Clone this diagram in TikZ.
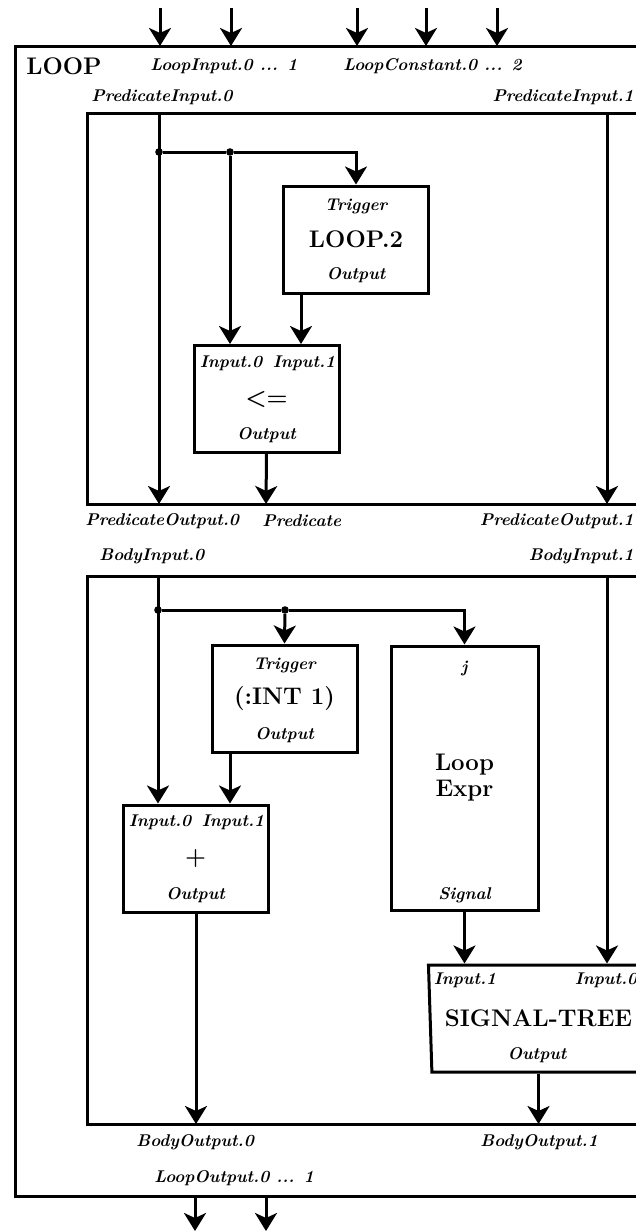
\documentclass[tikz,border=0pt]{standalone}
\usepackage{fontspec}
\usepackage{tikz}
\usetikzlibrary{arrows.meta,positioning,shapes.geometric}
\tikzset{
  gate/.style={draw=black, line width=1.5pt, minimum width=72.5pt, minimum height=53.5pt, inner sep=0pt, align=center, font=\fontsize{12}{13}\selectfont\bfseries},
  region/.style={draw=black, line width=1.5pt},
  port/.style={font=\fontsize{8.5}{9}\selectfont\bfseries\itshape, inner sep=0pt},
  title/.style={font=\fontsize{12}{13}\selectfont\bfseries, inner sep=0pt},
  wire/.style={line width=1.5pt},
  arrow/.style={-{Stealth[length=9pt,width=11pt,inset=2.5pt]}, line width=1.5pt},
  dot/.style={circle, fill=black, minimum size=3.8pt, inner sep=0pt}
}
\begin{document}
\begin{tikzpicture}[x=0.5pt, y=-0.5pt]
\useasboundingbox (0,0) rectangle (636,1232);
\clip (0,0) rectangle (636,1232);
% ---- LOOP frame ----
\draw[region] (15,46) rectangle (700,1196);
\node[title, anchor=west] (looptitle) at (26,66) {LOOP};
\node[port, anchor=west] (loopin) at (150,66) {LoopInput.0 ... 1};
\node[port, anchor=west] (loopconst) at (343,66) {LoopConstant.0 ... 2};
\foreach \x [count=\i] in {160,231,357,426,497} {
  \coordinate (lin\i) at (\x,8);
  \coordinate (linend\i) at (\x,46);
  \draw[arrow] (lin\i) -- (linend\i);
}
\node[port, anchor=west] (loopout) at (154,1178) {LoopOutput.0 ... 1};
\foreach \x [count=\i] in {195,266} {
  \coordinate (lout\i) at (\x,1196);
  \coordinate (loutend\i) at (\x,1231);
  \draw[arrow] (lout\i) -- (loutend\i);
}
% ---- predicate ----
\draw[region] (87,113) rectangle (700,504);
\node[port, anchor=west] (predin0) at (91,97) {PredicateInput.0};
\node[port, anchor=east] (predin1) at (634,97) {PredicateInput.1};
\node[port, anchor=west] (predout0) at (85,521) {PredicateOutput.0};
\node[port, anchor=west] (predflag) at (262,521) {Predicate};
\node[port, anchor=east] (predout1) at (634,521) {PredicateOutput.1};
\coordinate (pi0) at (159,113);
\coordinate (po0) at (159,504);
\coordinate (pi1) at (607,113);
\coordinate (po1) at (607,504);
\coordinate (pflag) at (266,504);
\node[gate] (loopii) at (356,239.5) {LOOP.2};
\node[port] (loopiitrig) at (356,206) {Trigger};
\node[port] (loopiiout) at (356,275) {Output};
\node[gate] (le) at (266.5,399) {<=};
\node[port] (lein0) at (231,363) {Input.0};
\node[port] (lein1) at (304,363) {Input.1};
\node[port] (leout) at (266.5,435) {Output};
\node[dot] (pj1) at (159,152) {};
\node[dot] (pj2) at (230,152) {};
\draw[arrow] (pi0) -- (po0);
\draw[wire] (pj1) -- (pj2);
\draw[arrow] (pj2) -| (loopii.north);
\draw[arrow] (pj2) -- (pj2 |- le.north);
\draw[arrow] (loopii.south -| 301,0) -- (le.north -| 301,0);
\draw[arrow] (le.south) -- (pflag);
\draw[arrow] (pi1) -- (po1);
% ---- body ----
\draw[region] (87,576) rectangle (700,1124);
\node[port, anchor=west] (bodyin0) at (99,556) {BodyInput.0};
\node[port, anchor=east] (bodyin1) at (634,556) {BodyInput.1};
\node[port, anchor=west] (bodyout0) at (136,1142) {BodyOutput.0};
\node[port, anchor=west] (bodyout1) at (480,1142) {BodyOutput.1};
\coordinate (bi0) at (158,576);
\coordinate (bi1) at (607,576);
\coordinate (bo0) at (196,1124);
\coordinate (bo1) at (538,1124);
\node[gate] (int) at (284.5,698.5) {(:INT 1)};
\node[port] (inttrig) at (284.5,665) {Trigger};
\node[port] (intout) at (284.5,735) {Output};
\node[gate] (plus) at (195.5,858.5) {+};
\node[port] (plusin0) at (160,822) {Input.0};
\node[port] (plusin1) at (233,822) {Input.1};
\node[port] (plusout) at (195.5,895) {Output};
\node[gate, minimum width=73.5pt, minimum height=132pt] (expr) at (464.5,778) {Loop\\Expr};
\node[port] (exprj) at (464.5,668) {j};
\node[port] (exprsig) at (464.5,895) {Signal};
\node[draw=black, line width=1.5pt, trapezium, trapezium angle=80, shape border rotate=180, trapezium stretches=true, minimum width=110.5pt, minimum height=53.5pt, inner sep=0pt, font=\fontsize{12}{13}\selectfont\bfseries] (sig) at (538.5,1018.5) {SIGNAL-TREE};
\node[port] (sigin1) at (465,980) {Input.1};
\node[port] (sigin0) at (606,980) {Input.0};
\node[port] (sigout) at (537,1055) {Output};
\node[dot] (bj1) at (158,610) {};
\node[dot] (bj2) at (285,610) {};
\draw[arrow] (bi0) -- (bi0 |- plus.north);
\draw[wire] (bj1) -- (bj2);
\draw[arrow] (bj2) -| (expr.north);
\draw[arrow] (bj2) -- (int.north);
\draw[arrow] (int.south -| 230,0) -- (plus.north -| 230,0);
\draw[arrow] (plus.south -| bo0) -- (bo0);
\draw[arrow] (expr.south) -- (expr.south |- sig.north);
\draw[arrow] (bi1) -- (bi1 |- sig.north);
\draw[arrow] (sig.south) -- (sig.south |- bo1);
\end{tikzpicture}
\end{document}
